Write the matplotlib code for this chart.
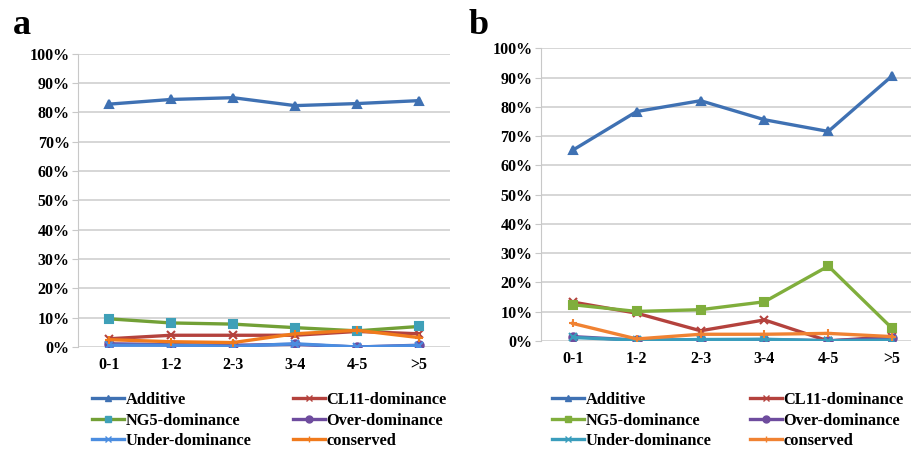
import matplotlib.pyplot as plt
from matplotlib.lines import Line2D

plt.rcParams['font.family'] = ['Liberation Serif', 'DejaVu Serif']
plt.rcParams['font.weight'] = 'bold'

categories = ["0-1", "1-2", "2-3", "3-4", "4-5", ">5"]
series_names = ["Additive", "CL11-dominance", "NG5-dominance",
                "Over-dominance", "Under-dominance", "conserved"]

# panel a (percent)
a_additive = [82.8, 84.4, 85.0, 82.3, 83.0, 84.0]
a_cl11 = [2.8, 4.0, 4.0, 4.0, 5.3, 4.5]
a_ng5 = [9.6, 8.2, 7.8, 6.6, 5.5, 7.0]
a_over = [1.1, 0.8, 0.6, 0.9, 0.0, 0.6]
a_under = [0.6, 0.6, 0.2, 1.1, 0.0, 0.5]
a_conserved = [2.5, 1.8, 1.5, 4.5, 5.7, 3.2]

# panel b (percent)
b_additive = [65.2, 78.4, 82.1, 75.6, 71.6, 90.6]
b_cl11 = [13.3, 9.5, 3.5, 7.2, 0.0, 1.5]
b_ng5 = [12.4, 10.1, 10.7, 13.4, 25.6, 4.3]
b_over = [1.5, 0.3, 0.3, 0.5, 0.1, 0.9]
b_under = [1.2, 0.3, 0.5, 0.6, 0.1, 0.3]
b_conserved = [6.0, 0.7, 2.3, 2.3, 2.6, 1.5]

# style: (colour, marker, marker face)
styles_a = [
    ("#3F71B3", "^", "#3F71B3"),
    ("#B4423D", "x", "#B4423D"),
    ("#72A036", "s", "#3FA0B8"),
    ("#6E4C9E", "o", "#6E4C9E"),
    ("#4B8DE0", "x", "#4B8DE0"),
    ("#F07A1C", "+", "#F07A1C"),
]
styles_b = [
    ("#3F71B3", "^", "#3F71B3"),
    ("#B4423D", "x", "#B4423D"),
    ("#80AE3C", "s", "#80AE3C"),
    ("#6E4C9E", "o", "#6E4C9E"),
    ("#3A9DBC", "x", "#3A9DBC"),
    ("#F08232", "+", "#F08232"),
]

fig = plt.figure(figsize=(9.12, 4.54), dpi=100)


def draw_panel(ax, data, styles, xmax):
    x = range(len(categories))
    for vals, (col, mk, face) in zip(data, styles):
        ax.plot(x, vals, color=col, linewidth=2.4, marker=mk, markersize=6,
                markerfacecolor=face, markeredgecolor=face if mk in "^os" else col,
                markeredgewidth=1.5)
    ax.set_ylim(0, 100)
    ax.set_xlim(-0.5, xmax)
    ax.set_yticks(range(0, 101, 10))
    ax.set_yticklabels([f"{v}%" for v in range(0, 101, 10)], fontsize=11.5, fontweight='bold')
    ax.set_xticks(list(x))
    ax.set_xticklabels(categories, fontsize=11.5, fontweight='bold')
    ax.grid(axis='y', color="#D0D0D0", linewidth=1.2)
    ax.set_axisbelow(True)
    for s in ["top", "right", "bottom"]:
        ax.spines[s].set_visible(False)
    ax.spines["left"].set_color("#C8C8C8")
    ax.tick_params(axis='y', length=4, color="#C8C8C8", pad=2)
    ax.tick_params(axis='x', length=0, pad=7)


ax_a = fig.add_axes([0.0855, 0.2357, 0.408, 0.646])
draw_panel(ax_a, [a_additive, a_cl11, a_ng5, a_over, a_under, a_conserved], styles_a, 5.5)
ax_b = fig.add_axes([0.593, 0.2489, 0.407, 0.6447])
draw_panel(ax_b, [b_additive, b_cl11, b_ng5, b_over, b_under, b_conserved], styles_b, 5.31)

fig.text(0.014, 0.925, "a", fontsize=26, fontweight='bold')
fig.text(0.514, 0.925, "b", fontsize=26, fontweight='bold')


def add_legend(styles, x_col1, x_col2, y_top):
    handles = []
    for name, (col, mk, face) in zip(series_names, styles):
        handles.append(Line2D([], [], color=col, linewidth=2.4, marker=mk, markersize=5,
                              markerfacecolor=face, markeredgecolor=face if mk in "^os" else col))
    for idxs, xpos in [((0, 2, 4), x_col1), ((1, 3, 5), x_col2)]:
        fig.legend([handles[i] for i in idxs], [series_names[i] for i in idxs],
                   loc='upper left', bbox_to_anchor=(xpos, y_top), frameon=False,
                   prop={'size': 11.8, 'weight': 'bold'}, handlelength=1.95,
                   handletextpad=0.1, labelspacing=0.28, borderpad=0, borderaxespad=0)


add_legend(styles_a, 92 / 912, 293 / 912, 1 - 392 / 454)
add_legend(styles_b, 552 / 912, 750 / 912, 1 - 392 / 454)

fig.savefig("out.png", dpi=100)
